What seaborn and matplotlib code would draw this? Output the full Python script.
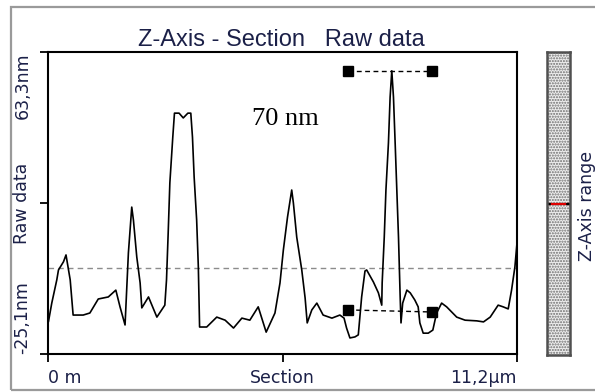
import matplotlib
matplotlib.use("Agg")
import matplotlib.pyplot as plt
from matplotlib.patches import Rectangle
import seaborn as sns
import pandas as pd

# Height profile along the section line
x_um = [0.01, 0.09, 0.21, 0.25, 0.37, 0.43, 0.53, 0.60, 0.84, 1.00,
        1.20, 1.44, 1.62, 1.72, 1.84, 1.92, 2.00, 2.04, 2.12, 2.20,
        2.24, 2.40, 2.60, 2.79, 2.83, 2.87, 2.91, 2.98, 3.02, 3.13,
        3.23, 3.34, 3.41, 3.45, 3.49, 3.55, 3.59, 3.62, 3.79, 4.03,
        4.23, 4.43, 4.63, 4.82, 5.02, 5.21, 5.42, 5.54, 5.62, 5.72,
        5.82, 5.86, 5.94, 6.06, 6.14, 6.19, 6.30, 6.42, 6.57, 6.78,
        6.97, 7.07, 7.13, 7.21, 7.33, 7.41, 7.49, 7.57, 7.61, 7.77,
        7.89, 7.97, 7.98, 8.03, 8.07, 8.13, 8.17, 8.21, 8.25, 8.29,
        8.33, 8.37, 8.41, 8.43, 8.47, 8.57, 8.65, 8.76, 8.84, 8.88,
        8.96, 9.08, 9.19, 9.28, 9.40, 9.52, 9.76, 9.96, 10.24, 10.40,
        10.56, 10.75, 10.87, 10.99, 11.07, 11.15, 11.20]
z_nm = [-15.7, -10.2, -3.4, -0.5, 1.9, 3.9, -3.4, -13.7, -13.7, -13.1,
        -9.0, -8.4, -6.4, -11.3, -16.6, 4.5, 17.9, 14.1, 3.3, -4.3,
        -11.6, -8.4, -14.3, -10.8, -3.4, 10.3, 25.0, 38.4, 45.4, 45.4,
        44.0, 45.4, 45.4, 38.4, 26.7, 14.1, 0.4, -17.2, -17.2, -14.3,
        -15.2, -17.5, -14.6, -15.2, -11.3, -18.7, -13.1, -4.3, 5.3, 15.0,
        22.9, 19.1, 9.1, -0.5, -8.7, -16.0, -12.2, -10.2, -13.7, -14.6,
        -13.7, -14.6, -17.5, -20.4, -20.1, -19.5, -8.4, -0.8, -0.5, -4.0,
        -7.2, -10.8, -4.3, 9.1, 22.9, 36.7, 50.1, 57.8, 50.1, 36.7,
        22.9, 9.1, -8.4, -16.0, -10.2, -6.4, -7.2, -9.3, -11.3, -16.0,
        -19.0, -19.0, -18.1, -13.1, -10.2, -11.3, -14.3, -15.2, -15.4, -15.7,
        -14.3, -10.8, -11.3, -11.9, -6.4, 0.4, 7.4]

# Cursor pairs used for the height measurement
cursor_x = [7.16, 9.17]
cursor_top = [57.8, 57.8]
cursor_bottom = [-12.2, -12.8]
height_label = "70 nm"

# Axis annotations
z_min, z_max = -25.1, 63.3
x_ticks = [0.0, 5.6, 11.2]
x_labels = ["0 m", "Section", "11,2µm"]
y_labels = ["-25,1nm", "Raw data", "63,3nm"]
title = "Z-Axis - Section   Raw data"
bar_label = "Z-Axis range"

sns.set_style("white")
plt.rcParams["font.family"] = ["DejaVu Sans"]

W, H = 595, 392
fig = plt.figure(figsize=(W / 100, H / 100), dpi=100)
fig.patch.set_facecolor("white")

def fx(px):
    return px / W

def fy(py):
    return 1 - py / H

# Outer panel frame
fig.patches.append(Rectangle((fx(11), fy(390)), fx(620) - fx(11), fy(7) - fy(390),
                             transform=fig.transFigure, fill=False,
                             edgecolor="#9a9a9a", linewidth=1.6, zorder=0))

ax = fig.add_axes([fx(48), fy(354), fx(517) - fx(48), fy(52) - fy(354)])
df = pd.DataFrame({"x": x_um, "z": z_nm})
sns.lineplot(data=df, x="x", y="z", ax=ax, color="black", linewidth=1.2,
             sort=False, estimator=None)

ax.axhline(0, color="#8c8c8c", linewidth=1.0, dashes=(4, 3), zorder=1)

ax.plot(cursor_x, cursor_top, color="black", linewidth=1.0, dashes=(3.5, 2.5),
        marker="s", markersize=6.5, zorder=3)
ax.plot(cursor_x, cursor_bottom, color="black", linewidth=1.0, dashes=(3.5, 2.5),
        marker="s", markersize=6.5, zorder=3)

ax.text(4.87, 41.9, height_label, family="Liberation Serif", fontsize=19,
        ha="left", va="baseline", color="black")

ax.set_xlim(0, 11.2)
ax.set_ylim(z_min, z_max)
ax.set_xlabel("")
ax.set_ylabel("")

for s in ax.spines.values():
    s.set_color("black")
    s.set_linewidth(1.5)
    s.set_visible(True)

label_color = "#1b2048"
ax.set_xticks(x_ticks, x_labels)
ax.set_yticks([z_min, (z_min + z_max) / 2, z_max], y_labels)
ax.tick_params(axis="both", which="both", direction="out", length=6,
               width=1.3, color="black", labelcolor=label_color, labelsize=12.5,
               left=True, bottom=True)
ax.tick_params(axis="x", pad=5)
ax.tick_params(axis="y", pad=6)
for lab, ha in zip(ax.get_xticklabels(), ["left", "center", "right"]):
    lab.set_ha(ha)
for lab, va in zip(ax.get_yticklabels(), ["bottom", "center", "top"]):
    lab.set_rotation(90)
    lab.set_va(va)
    lab.set_ha("right")

fig.text(fx(281), fy(46), title, family="Liberation Sans", fontsize=17,
         ha="center", va="baseline", color=label_color)

# Z-range bar at the right
bax = fig.add_axes([fx(547), fy(355), fx(570) - fx(547), fy(52) - fy(355)])
bax.set_xlim(0, 1)
bax.set_ylim(0, 1)
bax.add_patch(Rectangle((0, 0), 1, 1, facecolor="#ededed", edgecolor="#6e6e6e",
                        hatch="......", linewidth=0))
bax.axhline(0.5, color="#e00000", linewidth=1.6)
bax.plot([0, 0.12], [0.5, 0.5], color="black", linewidth=1.6)
bax.plot([0.88, 1], [0.5, 0.5], color="black", linewidth=1.6)
bax.set_xticks([])
bax.set_yticks([])
for s in bax.spines.values():
    s.set_color("#505050")
    s.set_linewidth(1.8)

fig.text(fx(587), fy(206), bar_label, rotation=90, fontsize=12.5,
         ha="center", va="center", color=label_color)

fig.savefig("out.png", dpi=100)
